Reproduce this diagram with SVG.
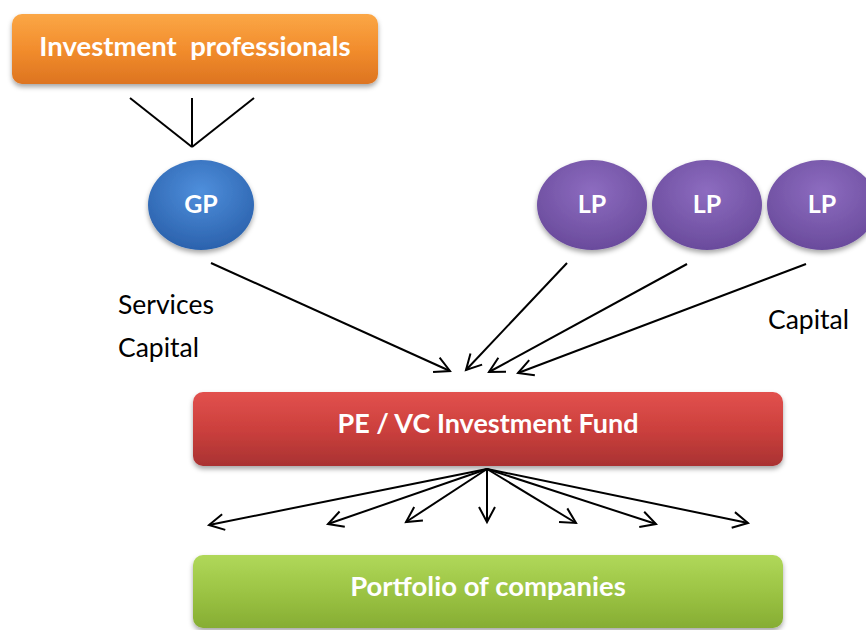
<svg xmlns="http://www.w3.org/2000/svg" width="866" height="630" viewBox="0 0 866 630">
<defs>
<style>
.lbl{font-family:Lato,"Open Sans","Liberation Sans",sans-serif;font-size:26.5px;fill:#000}
.nt{font-family:Lato,"Open Sans","Liberation Sans",sans-serif;font-weight:bold;fill:#fff;text-anchor:middle}
.ln{stroke:#000;stroke-width:2;fill:none}
.ar{stroke:#000;stroke-width:2;fill:none;marker-end:url(#open)}
</style>
<marker id="open" viewBox="0 0 20 20" refX="17" refY="10" markerWidth="20" markerHeight="20" markerUnits="userSpaceOnUse" orient="auto">
<path d="M2,2 L17,10 L2,18" fill="none" stroke="#000" stroke-width="2"/>
</marker>
<linearGradient id="gOr" x1="0" y1="0" x2="0" y2="1"><stop offset="0" stop-color="#fba746"/><stop offset="0.5" stop-color="#f28d2d"/><stop offset="1" stop-color="#dd7420"/></linearGradient>
<linearGradient id="gRd" x1="0" y1="0" x2="0" y2="1"><stop offset="0" stop-color="#e2514e"/><stop offset="0.5" stop-color="#cc403d"/><stop offset="1" stop-color="#a93232"/></linearGradient>
<linearGradient id="gGr" x1="0" y1="0" x2="0" y2="1"><stop offset="0" stop-color="#b0d85a"/><stop offset="0.5" stop-color="#9cc444"/><stop offset="1" stop-color="#86ad33"/></linearGradient>
<radialGradient id="gBl" cx="0.5" cy="0.35" r="0.65"><stop offset="0" stop-color="#4f8fdc"/><stop offset="1" stop-color="#2b62ad"/></radialGradient>
<radialGradient id="gPu" cx="0.5" cy="0.35" r="0.65"><stop offset="0" stop-color="#8d6cc0"/><stop offset="1" stop-color="#6a4b9c"/></radialGradient>
<filter id="sh" x="-10%" y="-20%" width="120%" height="150%"><feDropShadow dx="0" dy="3" stdDeviation="2.5" flood-color="#000" flood-opacity="0.35"/></filter>
</defs>
<g id="investment-professionals">
<rect x="12" y="14" width="366" height="70" rx="10" fill="url(#gOr)" filter="url(#sh)"/>
<text class="nt" x="195" y="56" font-size="27.5" xml:space="preserve">Investment  professionals</text>
</g>
<g id="gp">
<ellipse cx="201" cy="205" rx="53" ry="45" fill="url(#gBl)" filter="url(#sh)"/>
<text class="nt" x="201" y="213" font-size="25">GP</text>
</g>
<g id="lp1">
<ellipse cx="592" cy="205" rx="55" ry="45" fill="url(#gPu)" filter="url(#sh)"/>
<text class="nt" x="592" y="213" font-size="25">LP</text>
</g>
<g id="lp2">
<ellipse cx="707" cy="205" rx="55" ry="45" fill="url(#gPu)" filter="url(#sh)"/>
<text class="nt" x="707" y="213" font-size="25">LP</text>
</g>
<g id="lp3">
<ellipse cx="822" cy="205" rx="55" ry="45" fill="url(#gPu)" filter="url(#sh)"/>
<text class="nt" x="822" y="213" font-size="25">LP</text>
</g>
<g id="fund">
<rect x="193" y="392" width="590" height="74" rx="10" fill="url(#gRd)" filter="url(#sh)"/>
<text class="nt" x="488" y="433" font-size="27">PE / VC Investment Fund</text>
</g>
<g id="portfolio">
<rect x="193" y="555" width="590" height="73" rx="10" fill="url(#gGr)" filter="url(#sh)"/>
<text class="nt" x="488" y="596" font-size="27.5">Portfolio of companies</text>
</g>
<g id="labels">
<text class="lbl" x="118" y="314">Services</text>
<text class="lbl" x="118" y="357">Capital</text>
<text class="lbl" x="768" y="329">Capital</text>
</g>
<g id="connectors">
<line class="ln" x1="130" y1="98" x2="192" y2="147"/>
<line class="ln" x1="192" y1="98" x2="192" y2="147"/>
<line class="ln" x1="254" y1="98" x2="192" y2="147"/>
<line class="ar" x1="211" y1="263" x2="450" y2="371"/>
<line class="ar" x1="567" y1="263" x2="466" y2="370"/>
<line class="ar" x1="687" y1="264" x2="489" y2="372"/>
<line class="ar" x1="806" y1="264" x2="518" y2="373"/>
<line class="ar" x1="487" y1="469" x2="209" y2="525"/>
<line class="ar" x1="487" y1="469" x2="328" y2="524"/>
<line class="ar" x1="487" y1="469" x2="406" y2="522"/>
<line class="ar" x1="487" y1="469" x2="487" y2="522"/>
<line class="ar" x1="487" y1="469" x2="576" y2="523"/>
<line class="ar" x1="487" y1="469" x2="656" y2="524"/>
<line class="ar" x1="487" y1="469" x2="748" y2="523"/>
</g>
</svg>
